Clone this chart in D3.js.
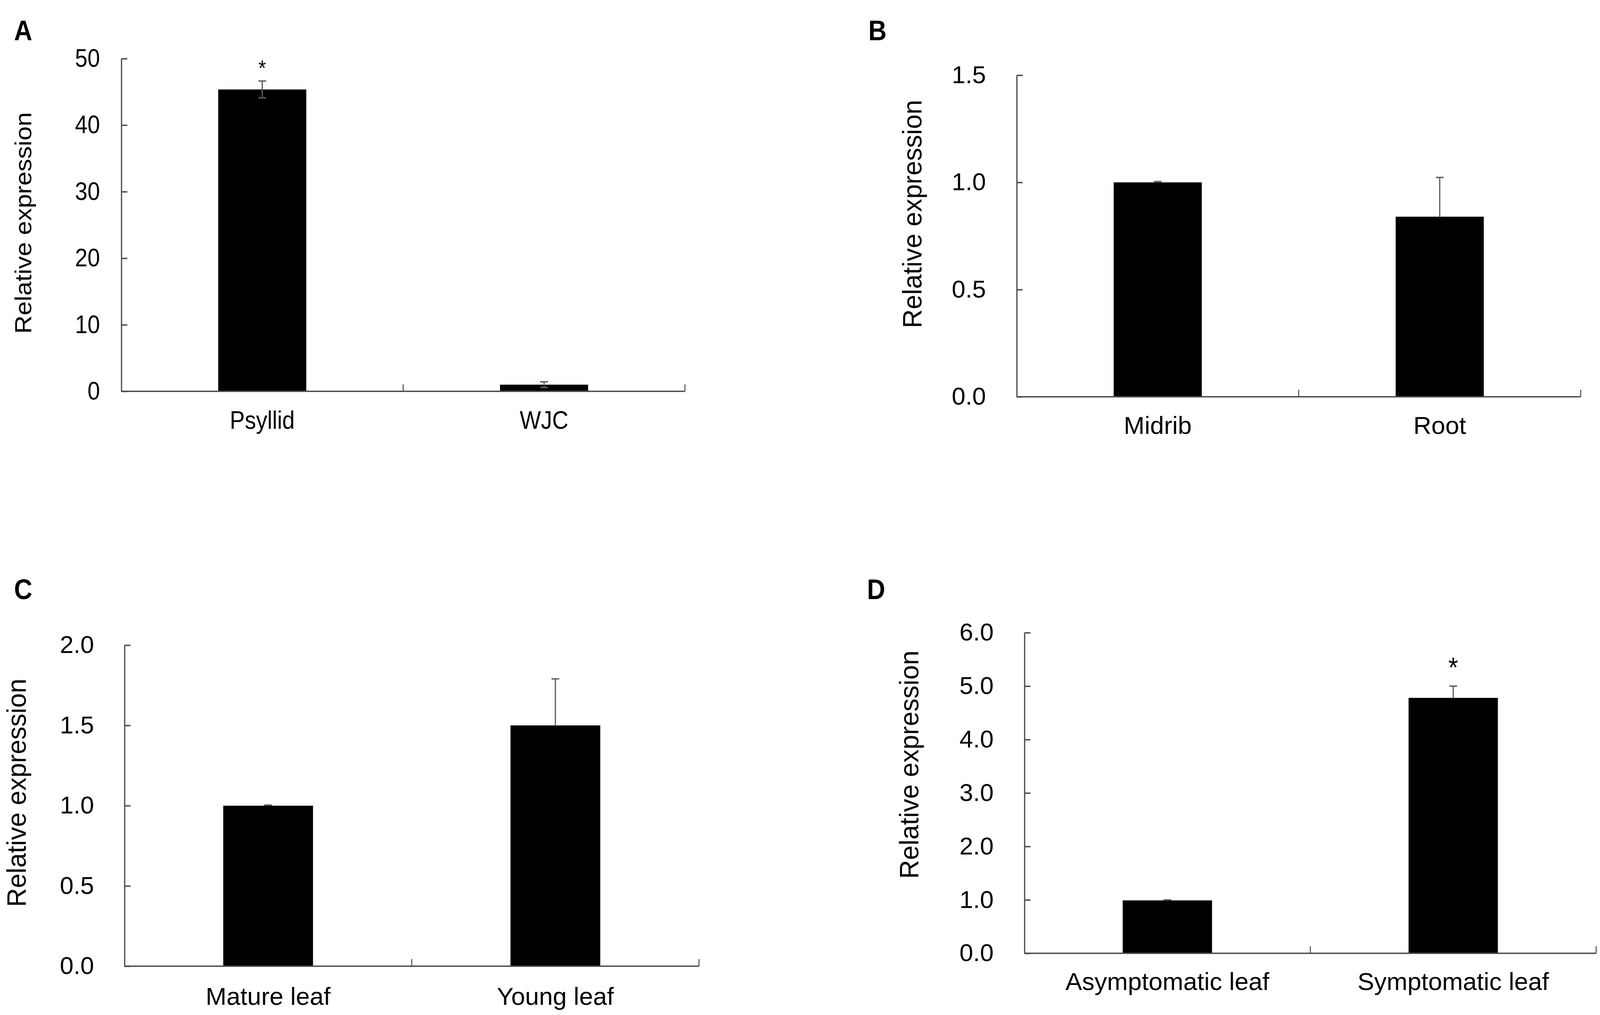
<!DOCTYPE html>
<html>
<head>
<meta charset="utf-8">
<script src="https://cdn.jsdelivr.net/npm/d3@7"></script>
<style>
  html, body { margin: 0; padding: 0; background: #ffffff; overflow: hidden; }
  svg { display: block; width: 100vw; height: 100vh; }
  text { font-family: "Liberation Sans", Arial, Helvetica, sans-serif; fill: #000; }
</style>
</head>
<body>
<svg id="chart" viewBox="0 0 4562 2599" preserveAspectRatio="none"></svg>
<script>
// ---------------- data ----------------
const catsA = ["Psyllid", "WJC"];
const valsA = [45.36, 1.0];
const errA  = [1.27, 0.43];
const sigA  = [true, false];
const ticksA = [0, 10, 20, 30, 40, 50];

const catsB = ["Midrib", "Root"];
const valsB = [1.0, 0.84];
const errB  = [0.004, 0.183];
const sigB  = [false, false];
const ticksB = [0, 0.5, 1.0, 1.5];

const catsC = ["Mature leaf", "Young leaf"];
const valsC = [1.0, 1.5];
const errC  = [0.004, 0.29];
const sigC  = [false, false];
const ticksC = [0, 0.5, 1.0, 1.5, 2.0];

const catsD = ["Asymptomatic leaf", "Symptomatic leaf"];
const valsD = [0.99, 4.78];
const errD  = [0.01, 0.22];
const sigD  = [false, true];
const ticksD = [0, 1, 2, 3, 4, 5, 6];

const panelLetters = ["A", "B", "C", "D"];
const yTitle = "Relative expression";

// ---------------- layout ----------------
const layouts = [
  { cats: catsA, vals: valsA, errs: errA, sig: sigA, ticks: ticksA, fmt: d3.format("d"),
    x0: 346, x1: 1953, yBase: 1002, yTop: 150, tickPad: 61, tickFont: 64, catFont: 64, catY: 1098,
    titleX: 89, titleY: 571, titleFont: 65, sx: 1.0, letterX: 40, letterY: 103,
    twoSided: true, astFont: 56, astGap: 46 },
  { cats: catsB, vals: valsB, errs: errB, sig: sigB, ticks: ticksB, fmt: d3.format(".1f"),
    x0: 2899, x1: 4507, yBase: 1016, yTop: 192.5, tickPad: 88, tickFont: 62, catFont: 63, catY: 1111,
    titleX: 2627, titleY: 548, titleFont: 67, sx: 1.13, letterX: 2476, letterY: 103,
    twoSided: false, astFont: 70, astGap: 55 },
  { cats: catsC, vals: valsC, errs: errC, sig: sigC, ticks: ticksC, fmt: d3.format(".1f"),
    x0: 355, x1: 1993, yBase: 2474, yTop: 1652, tickPad: 87, tickFont: 62, catFont: 63, catY: 2573,
    titleX: 74, titleY: 2030, titleFont: 67, sx: 1.13, letterX: 40, letterY: 1534,
    twoSided: false, astFont: 70, astGap: 55 },
  { cats: catsD, vals: valsD, errs: errD, sig: sigD, ticks: ticksD, fmt: d3.format(".1f"),
    x0: 2921, x1: 4551, yBase: 2441, yTop: 1620, tickPad: 88, tickFont: 62, catFont: 63, catY: 2535,
    titleX: 2618, titleY: 1958, titleFont: 67, sx: 1.13, letterX: 2472, letterY: 1534,
    twoSided: false, astFont: 72, astGap: 64 }
];

const axisColor = "#4a4a4a";
const axisWidth = 3.5;
const errColor = "#5e5e5e";
const errWidth = 3.5;
const barFrac = 0.3125;
const tickLen = 17;
const capW = 22;

const svg = d3.select("#chart");
svg.append("rect").attr("width", 4562).attr("height", 2599).attr("fill", "#fff");

layouts.forEach((L, i) => {
  const g = svg.append("g");
  const yMax = L.ticks[L.ticks.length - 1];
  const y = d3.scaleLinear().domain([0, yMax]).range([L.yBase, L.yTop]);
  const x = d3.scaleBand().domain(L.cats).range([L.x0, L.x1]).paddingInner(0).paddingOuter(0);
  const bw = x.bandwidth() * barFrac;

  // bars
  g.selectAll("rect.bar").data(L.cats).join("rect")
    .attr("class", "bar")
    .attr("x", c => x(c) + (x.bandwidth() - bw) / 2)
    .attr("width", bw)
    .attr("y", (c, j) => y(L.vals[j]))
    .attr("height", (c, j) => y(0) - y(L.vals[j]))
    .attr("fill", "#000");

  // error bars
  L.cats.forEach((c, j) => {
    const cx = x(c) + x.bandwidth() / 2;
    const hi = y(L.vals[j] + L.errs[j]);
    const lo = L.twoSided ? y(L.vals[j] - L.errs[j]) : y(L.vals[j]);
    g.append("line").attr("x1", cx).attr("x2", cx).attr("y1", hi).attr("y2", lo)
      .attr("stroke", errColor).attr("stroke-width", errWidth);
    g.append("line").attr("x1", cx - capW / 2).attr("x2", cx + capW / 2).attr("y1", hi).attr("y2", hi)
      .attr("stroke", errColor).attr("stroke-width", errWidth);
    if (L.twoSided) {
      g.append("line").attr("x1", cx - capW / 2).attr("x2", cx + capW / 2).attr("y1", lo).attr("y2", lo)
        .attr("stroke", errColor).attr("stroke-width", errWidth);
    }
    if (L.sig[j]) {
      g.append("text")
        .attr("transform", `translate(${cx},${hi - L.astGap + 0.57 * L.astFont})`)
        .attr("text-anchor", "middle")
        .attr("font-size", L.astFont)
        .text("*");
    }
  });

  // y axis
  const yAxis = d3.axisLeft(y).tickValues(L.ticks).tickFormat(L.fmt)
    .tickSizeInner(-tickLen).tickSizeOuter(0).tickPadding(L.tickPad);
  const ya = g.append("g").attr("transform", `translate(${L.x0},0)`).call(yAxis);
  ya.select(".domain").attr("stroke", axisColor).attr("stroke-width", axisWidth);
  ya.selectAll(".tick line").attr("stroke", axisColor).attr("stroke-width", axisWidth);
  ya.selectAll(".tick text")
    .attr("x", 0)
    .attr("transform", `translate(${-L.tickPad},0) scale(${L.sx},1)`)
    .attr("font-size", L.tickFont)
    .attr("font-family", "'Liberation Sans', Arial, sans-serif")
    .attr("fill", "#000");

  // x axis line and boundary ticks
  g.append("line").attr("x1", L.x0).attr("x2", L.x1).attr("y1", y(0)).attr("y2", y(0))
    .attr("stroke", axisColor).attr("stroke-width", axisWidth);
  L.cats.forEach(c => {
    const bx = x(c) + x.bandwidth();
    g.append("line").attr("x1", bx).attr("x2", bx).attr("y1", y(0)).attr("y2", y(0) - tickLen - 1)
      .attr("stroke", axisColor).attr("stroke-width", axisWidth * 0.8);
  });

  // category labels
  L.cats.forEach(c => {
    g.append("text")
      .attr("transform", `translate(${x(c) + x.bandwidth() / 2},${L.catY}) scale(${L.sx},1)`)
      .attr("text-anchor", "middle")
      .attr("font-size", L.catFont)
      .text(c);
  });

  // y title
  g.append("text")
    .attr("transform", `translate(${L.titleX},${L.titleY}) scale(${L.sx},1) rotate(-90)`)
    .attr("text-anchor", "middle")
    .attr("font-size", L.titleFont)
    .text(yTitle);

  // panel letter
  g.append("text")
    .attr("x", L.letterX).attr("y", L.letterY)
    .attr("font-size", 72)
    .attr("font-weight", "bold")
    .text(panelLetters[i]);
});
</script>
</body>
</html>
